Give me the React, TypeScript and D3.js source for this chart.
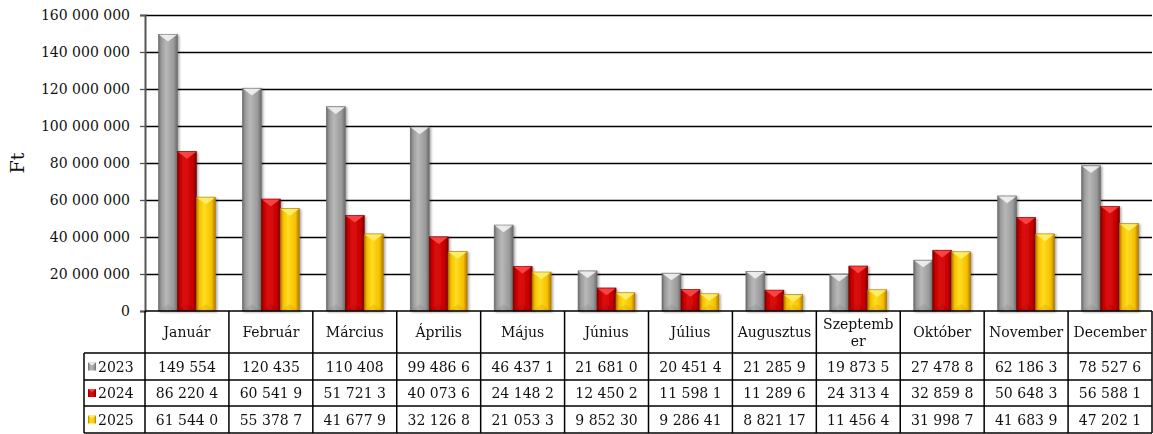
import React, { useEffect, useRef } from 'react'
import * as d3 from 'd3'

const months = ['Január', 'Február', 'Március', 'Április', 'Május', 'Június', 'Július', 'Augusztus', 'Szeptember', 'Október', 'November', 'December']
const monthLines: string[][] = [['Január'], ['Február'], ['Március'], ['Április'], ['Május'], ['Június'], ['Július'], ['Augusztus'], ['Szeptemb', 'er'], ['Október'], ['November'], ['December']]
const years = ['2023', '2024', '2025']

const values2023 = [149554000, 120435000, 110408000, 99486600, 46437100, 21681000, 20451400, 21285900, 19873500, 27478800, 62186300, 78527600]
const values2024 = [86220400, 60541900, 51721300, 40073600, 24148200, 12450200, 11598100, 11289600, 24313400, 32859800, 50648300, 56588100]
const values2025 = [61544000, 55378700, 41677900, 32126800, 21053300, 9852300, 9286410, 8821170, 11456400, 31998700, 41683900, 47202100]

const labels2023 = ['149 554', '120 435', '110 408', '99 486 6', '46 437 1', '21 681 0', '20 451 4', '21 285 9', '19 873 5', '27 478 8', '62 186 3', '78 527 6']
const labels2024 = ['86 220 4', '60 541 9', '51 721 3', '40 073 6', '24 148 2', '12 450 2', '11 598 1', '11 289 6', '24 313 4', '32 859 8', '50 648 3', '56 588 1']
const labels2025 = ['61 544 0', '55 378 7', '41 677 9', '32 126 8', '21 053 3', '9 852 30', '9 286 41', '8 821 17', '11 456 4', '31 998 7', '41 683 9', '47 202 1']

const yTicks = [0, 20000000, 40000000, 60000000, 80000000, 100000000, 120000000, 140000000, 160000000]

const series = [
  { year: years[0], values: values2023, labels: labels2023, dark: '#6a6a6a', mid: '#9a9a9a', light: '#b8b8b8', tip: '#f2f2f2' },
  { year: years[1], values: values2024, labels: labels2024, dark: '#7a0000', mid: '#c80000', light: '#dc1010', tip: '#ff4848' },
  { year: years[2], values: values2025, labels: labels2025, dark: '#b07800', mid: '#f5c000', light: '#ffdc20', tip: '#fff070' },
]

const W = 1153
const H = 434
const left = 145
const right = 1152
const top = 15
const bottom = 311
const rowTops = [311, 353, 380, 406, 433]
const font = '"DejaVu Serif", "Liberation Serif", serif'

export default function App() {
  const ref = useRef<SVGSVGElement>(null)

  useEffect(() => {
    const svg = d3.select(ref.current)
    svg.selectAll('*').remove()

    const x = d3.scaleBand<string>().domain(months).range([left, right]).padding(0)
    const xi = d3.scaleBand<string>().domain(years).range([13.5, x.bandwidth() - 13.5]).padding(0)
    const y = d3.scaleLinear().domain([0, 160000000]).range([bottom, top])

    const defs = svg.append('defs')
    series.forEach((s, i) => {
      const g = defs.append('linearGradient').attr('id', 'bar' + i).attr('x1', 0).attr('x2', 1).attr('y1', 0).attr('y2', 0)
      g.append('stop').attr('offset', '0%').attr('stop-color', s.dark)
      g.append('stop').attr('offset', '15%').attr('stop-color', s.mid)
      g.append('stop').attr('offset', '40%').attr('stop-color', s.light)
      g.append('stop').attr('offset', '80%').attr('stop-color', s.mid)
      g.append('stop').attr('offset', '100%').attr('stop-color', s.dark)
    })
    const sh = defs.append('filter').attr('id', 'shadow').attr('x', '-20%').attr('y', '-5%').attr('width', '150%').attr('height', '115%')
    sh.append('feDropShadow').attr('dx', 1.5).attr('dy', 1).attr('stdDeviation', 1.2).attr('flood-color', '#000').attr('flood-opacity', 0.35)

    // gridlines
    svg.append('g')
      .selectAll('line')
      .data(yTicks.filter(d => d > 0))
      .enter()
      .append('line')
      .attr('x1', left)
      .attr('x2', right)
      .attr('y1', d => Math.round(y(d)) + 0.5)
      .attr('y2', d => Math.round(y(d)) + 0.5)
      .attr('stroke', '#000')
      .attr('stroke-width', 1.3)

    // y axis
    const yAxis = d3.axisLeft(y).tickValues(yTicks).tickSize(5).tickPadding(10)
      .tickFormat(d => d3.format(',')(d as number).replace(/,/g, ' '))
    const ya = svg.append('g').attr('transform', `translate(${left},0)`).call(yAxis)
    ya.select('.domain').attr('stroke', '#555').attr('stroke-width', 2)
    ya.selectAll('.tick line').attr('stroke', '#555').attr('stroke-width', 1.3)
    ya.selectAll('.tick text').attr('font-family', font).attr('font-size', 14).attr('fill', '#111')

    svg.append('text')
      .attr('transform', `translate(24,${(top + bottom) / 2}) rotate(-90)`)
      .attr('text-anchor', 'middle')
      .attr('font-family', font)
      .attr('font-size', 19)
      .attr('fill', '#111')
      .text('Ft')

    // bars
    series.forEach((s, si) => {
      const g = svg.append('g').attr('filter', 'url(#shadow)')
      const bw = xi.bandwidth()
      const bars = g.selectAll('g.bar').data(s.values).enter().append('g')
      bars.append('rect')
        .attr('x', (d, i) => x(months[i]) + xi(s.year))
        .attr('y', d => y(d))
        .attr('width', bw)
        .attr('height', d => bottom - y(d))
        .attr('fill', `url(#bar${si})`)
        .attr('stroke', s.dark)
        .attr('stroke-width', 0.6)
      bars.append('path')
        .attr('d', (d, i) => {
          const x0 = x(months[i]) + xi(s.year)
          const y0 = y(d)
          return `M${x0 + 0.5},${y0 + 0.5}L${x0 + bw - 0.5},${y0 + 0.5}L${x0 + bw / 2},${y0 + bw * 0.38}Z`
        })
        .attr('fill', s.tip)
        .attr('opacity', 0.9)
      bars.append('path')
        .attr('d', (d, i) => {
          const x0 = x(months[i]) + xi(s.year)
          return `M${x0},${bottom}L${x0 + bw},${bottom}L${x0 + bw / 2},${bottom - bw * 0.35}Z`
        })
        .attr('fill', s.dark)
        .attr('opacity', 0.18)
    })

    // table
    const t = svg.append('g')
    const lineAttrs = (sel: any) => sel.attr('stroke', '#000').attr('stroke-width', 1.5)
    lineAttrs(t.append('line').attr('x1', left).attr('x2', right).attr('y1', rowTops[0]).attr('y2', rowTops[0]))
    rowTops.slice(1).forEach(yy => {
      lineAttrs(t.append('line').attr('x1', 84).attr('x2', right).attr('y1', yy).attr('y2', yy))
    })
    lineAttrs(t.append('line').attr('x1', 84).attr('x2', 84).attr('y1', rowTops[1]).attr('y2', rowTops[4]))
    months.forEach(m => {
      lineAttrs(t.append('line').attr('x1', x(m)).attr('x2', x(m)).attr('y1', rowTops[0]).attr('y2', rowTops[4]))
    })
    lineAttrs(t.append('line').attr('x1', right).attr('x2', right).attr('y1', rowTops[0]).attr('y2', rowTops[4]))

    months.forEach((m, i) => {
      const lines = monthLines[i]
      const cx = x(m) + x.bandwidth() / 2
      const cy = (rowTops[0] + rowTops[1]) / 2
      lines.forEach((ln, li) => {
        t.append('text')
          .attr('x', cx)
          .attr('y', cy + 5 + (li - (lines.length - 1) / 2) * 17)
          .attr('text-anchor', 'middle')
          .attr('font-family', font)
          .attr('font-size', 14)
          .attr('fill', '#111')
          .text(ln)
      })
    })

    series.forEach((s, si) => {
      const cy = (rowTops[si + 1] + rowTops[si + 2]) / 2
      const key = t.append('g').attr('transform', `translate(88,${cy - 4})`)
      key.append('rect').attr('width', 8).attr('height', 8).attr('fill', `url(#bar${si})`)
      key.append('path').attr('d', 'M0,0L8,0L4,3Z').attr('fill', s.tip).attr('opacity', 0.9)
      t.append('text')
        .attr('x', 98)
        .attr('y', cy + 5)
        .attr('font-family', font)
        .attr('font-size', 14)
        .attr('fill', '#111')
        .text(s.year)
      s.labels.forEach((lb, i) => {
        t.append('text')
          .attr('x', x(months[i]) + x.bandwidth() / 2)
          .attr('y', cy + 5)
          .attr('text-anchor', 'middle')
          .attr('font-family', font)
          .attr('font-size', 14)
          .attr('fill', '#111')
          .text(lb)
      })
    })
  }, [])

  return (
    <div style={{ position: 'absolute', left: 0, top: 0, background: '#fff' }}>
      <svg ref={ref} width={W} height={H} style={{ display: 'block' }} />
    </div>
  )
}
